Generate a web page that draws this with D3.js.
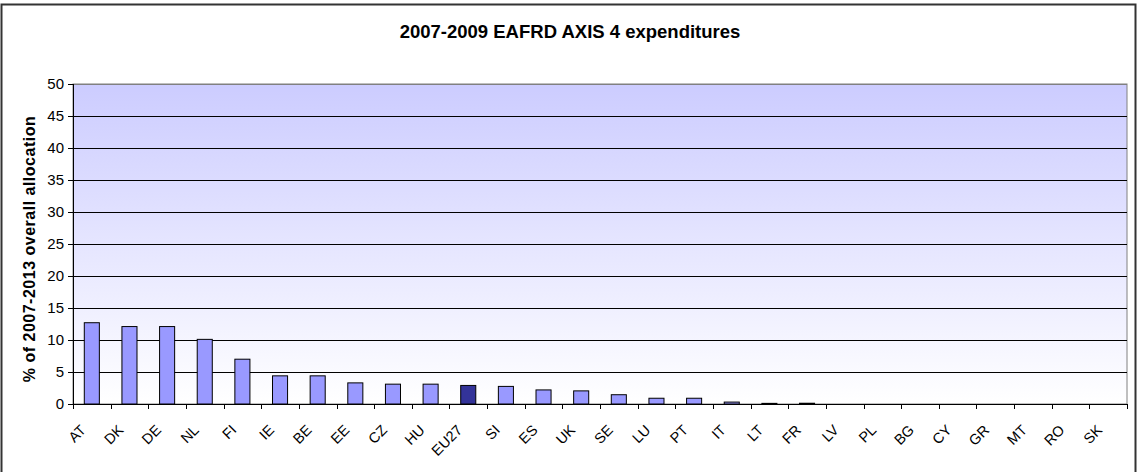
<!DOCTYPE html>
<html>
<head>
<meta charset="utf-8">
<script src="https://cdn.jsdelivr.net/npm/d3@7"></script>
<style>
  body { margin: 0; background: #fff; }
  text { font-family: "Liberation Sans", Arial, sans-serif; }
</style>
</head>
<body>
<svg id="chart" width="1138" height="472"></svg>
<script>
var countries = ["AT", "DK", "DE", "NL", "FI", "IE", "BE", "EE", "CZ", "HU", "EU27", "SI", "ES", "UK",
  "SE", "LU", "PT", "IT", "LT", "FR", "LV", "PL", "BG", "CY", "GR", "MT", "RO", "SK"];
var shares = [12.7, 12.1, 12.1, 10.1, 7.0, 4.4, 4.4, 3.3, 3.1, 3.1, 2.9, 2.75, 2.2, 2.05,
  1.45, 0.9, 0.9, 0.3, 0.1, 0.12, 0, 0, 0, 0, 0, 0, 0, 0];
var yTicks = [0, 5, 10, 15, 20, 25, 30, 35, 40, 45, 50];

var data = countries.map(function(c, i) { return {country: c, value: shares[i]}; });

var svg = d3.select("#chart"),
    margin = {top: 84, right: 11, bottom: 68, left: 73},
    width = 1138 - margin.left - margin.right,
    height = 472 - margin.top - margin.bottom;

/* outer frame */
svg.append("rect")
    .attr("x", 1.5).attr("y", 4.5)
    .attr("width", 1134).attr("height", 470)
    .attr("fill", "#fff")
    .attr("stroke", "#333")
    .attr("stroke-width", 2);

svg.append("text")
    .attr("x", 570)
    .attr("y", 38)
    .attr("text-anchor", "middle")
    .attr("font-size", "18.5px")
    .attr("font-weight", "bold")
    .text("2007-2009 EAFRD AXIS 4 expenditures");

var defs = svg.append("defs");
var grad = defs.append("linearGradient")
    .attr("id", "bg").attr("x1", 0).attr("y1", 0).attr("x2", 0).attr("y2", 1);
grad.append("stop").attr("offset", "0%").attr("stop-color", "#ccccff");
grad.append("stop").attr("offset", "100%").attr("stop-color", "#ffffff");

var g = svg.append("g").attr("transform", "translate(" + margin.left + "," + margin.top + ")");

var x = d3.scaleBand()
    .domain(countries)
    .range([0, width]);

var y = d3.scaleLinear()
    .domain([0, 50])
    .range([height, 0]);

g.append("rect")
    .attr("width", width)
    .attr("height", height)
    .attr("fill", "url(#bg)")
    .attr("stroke", "#808080");

/* gridlines */
g.selectAll(".grid")
    .data(yTicks.filter(function(d) { return d > 0; }))
    .enter().append("line")
      .attr("class", "grid")
      .attr("x1", 0).attr("x2", width)
      .attr("y1", function(d) { return Math.round(y(d)) + 0.5; })
      .attr("y2", function(d) { return Math.round(y(d)) + 0.5; })
      .attr("stroke", function(d) { return d == 50 ? "#808080" : "#000"; });

/* bars */
var bw = x.bandwidth() * 0.4;
g.selectAll(".bar")
    .data(data.filter(function(d) { return d.value > 0; }))
    .enter().append("rect")
      .attr("class", "bar")
      .attr("x", function(d) { return x(d.country) + (x.bandwidth() - bw) / 2; })
      .attr("y", function(d) { return y(d.value); })
      .attr("width", bw)
      .attr("height", function(d) { return height - y(d.value); })
      .attr("fill", function(d) { return d.country == "EU27" ? "#333399" : "#9999ff"; })
      .attr("stroke", "#000")
      .attr("stroke-width", 1);

/* x axis */
var xAxis = g.append("g")
    .attr("transform", "translate(0," + height + ")");
xAxis.append("line")
    .attr("x1", 0).attr("x2", width)
    .attr("y1", 0.5).attr("y2", 0.5)
    .attr("stroke", "#000");
xAxis.selectAll(".xtick")
    .data(countries.concat(["_end"]))
    .enter().append("line")
      .attr("x1", function(d, i) { return Math.round(i * x.step()) + 0.5; })
      .attr("x2", function(d, i) { return Math.round(i * x.step()) + 0.5; })
      .attr("y1", 0).attr("y2", 5)
      .attr("stroke", "#000");
xAxis.selectAll(".xlab")
    .data(countries)
    .enter().append("text")
      .attr("text-anchor", "end")
      .attr("font-size", "14.5px")
      .attr("x", function(d) { return x(d) + x.bandwidth() / 2 - 5; })
      .attr("y", 27)
      .attr("transform", function(d) {
        return "rotate(-45," + (x(d) + x.bandwidth() / 2 - 5) + ",27)";
      })
      .text(function(d) { return d; });

/* y axis */
var yAxis = g.append("g");
yAxis.append("line")
    .attr("x1", 0.5).attr("x2", 0.5)
    .attr("y1", 0).attr("y2", height)
    .attr("stroke", "#000");
yAxis.selectAll(".ytick")
    .data(yTicks)
    .enter().append("line")
      .attr("x1", -5).attr("x2", 0)
      .attr("y1", function(d) { return Math.round(y(d)) + 0.5; })
      .attr("y2", function(d) { return Math.round(y(d)) + 0.5; })
      .attr("stroke", "#000");
yAxis.selectAll(".ylab")
    .data(yTicks)
    .enter().append("text")
      .attr("x", -9)
      .attr("y", function(d) { return y(d); })
      .attr("dy", "0.35em")
      .attr("text-anchor", "end")
      .attr("font-size", "15px")
      .text(function(d) { return d; });

svg.append("text")
    .attr("transform", "translate(35,249) rotate(-90)")
    .attr("text-anchor", "middle")
    .attr("font-size", "16px")
    .attr("letter-spacing", "0.5px")
    .attr("font-weight", "bold")
    .text("% of 2007-2013 overall allocation");
</script>
</body>
</html>
